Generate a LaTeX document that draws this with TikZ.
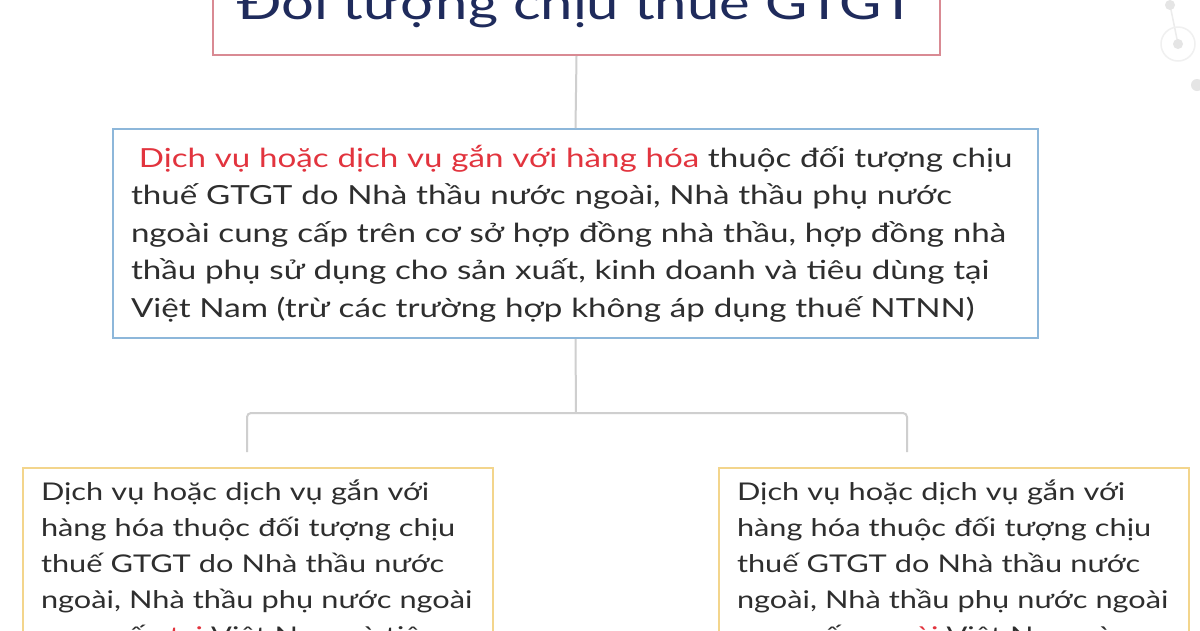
\documentclass[tikz,border=0pt]{standalone}
\usepackage{fontspec}
\setmainfont{Lato}[FakeStretch=1.26]
\usetikzlibrary{positioning}

\definecolor{titleblue}{HTML}{1F2B5C}
\definecolor{titleframe}{HTML}{D98A93}
\definecolor{midframe}{HTML}{8DB7DA}
\definecolor{subframe}{HTML}{F3D58C}
\definecolor{linkgray}{HTML}{CFCFCF}
\definecolor{hlred}{HTML}{E2343E}
\definecolor{bodygray}{HTML}{2E2E2E}

\tikzset{
  box/.style={draw, line width=2pt, fill=white, inner xsep=18pt, inner ysep=0pt, text=bodygray, align=left},
  link/.style={draw=linkgray, line width=2pt, rounded corners=4pt},
}
\newcommand{\hl}[1]{\textcolor{hlred}{#1}}

\begin{document}
\begin{tikzpicture}[x=1pt,y=-1pt]%
\useasboundingbox (0,0) rectangle (1200,630);
\clip (0,0) rectangle (1200,630);
\fill[white] (0,0) rectangle (1200,630);

% faint corner decoration
\draw[gray!15, line width=1.5pt] (1170,5) -- (1178,44);
\draw[gray!12, line width=1.5pt] (1178,44) circle (17);
\fill[gray!20] (1170,5) circle (5) (1178,44) circle (5) (1197,85) circle (6);

% title
\node[box, draw=titleframe, minimum width=727pt, minimum height=100pt, text=titleblue,
      align=center, font=\fontsize{46}{50}\selectfont] (title) at (576.5,5) {\raisebox{-11pt}{Đối tượng chịu thuế GTGT}};

% main box
\node[box, draw=midframe, text width=889pt, minimum height=209pt,
      font=\fontsize{26.3}{37.5}\selectfont] (mid) at (575.5,233.5)
  {\hspace*{0.3em}\hl{Dịch vụ hoặc dịch vụ gắn với hàng hóa} thuộc đối tượng chịu\\
   thuế GTGT do Nhà thầu nước ngoài, Nhà thầu phụ nước\\
   ngoài cung cấp trên cơ sở hợp đồng nhà thầu, hợp đồng nhà\\
   thầu phụ sử dụng cho sản xuất, kinh doanh và tiêu dùng tại\\
   Việt Nam (trừ các trường hợp không áp dụng thuế NTNN)};

% two lower boxes
\node[box, draw=subframe, text width=434pt, inner ysep=12pt, anchor=north west,
      font=\fontsize{24.4}{36}\selectfont] (left) at (22,467)
  {Dịch vụ hoặc dịch vụ gắn với\\
   hàng hóa thuộc đối tượng chịu\\
   thuế GTGT do Nhà thầu nước\\
   ngoài, Nhà thầu phụ nước ngoài\\
   cung cấp \hl{tại} Việt Nam và tiêu};
\node[box, draw=subframe, text width=434pt, inner ysep=12pt, anchor=north west,
      font=\fontsize{24.4}{36}\selectfont] (right) at (718,467)
  {Dịch vụ hoặc dịch vụ gắn với\\
   hàng hóa thuộc đối tượng chịu\\
   thuế GTGT do Nhà thầu nước\\
   ngoài, Nhà thầu phụ nước ngoài\\
   cung cấp \hl{ngoài} Việt Nam và};

% connectors
\coordinate (fork) at (576,413);
\coordinate (lend) at (247,452);
\coordinate (rend) at (907,452);
\draw[link] (title.south) -- (mid.north);
\draw[link] (mid.south) -- (fork);
\draw[link] (lend) |- (fork) -| (rend);

\end{tikzpicture}
\end{document}
